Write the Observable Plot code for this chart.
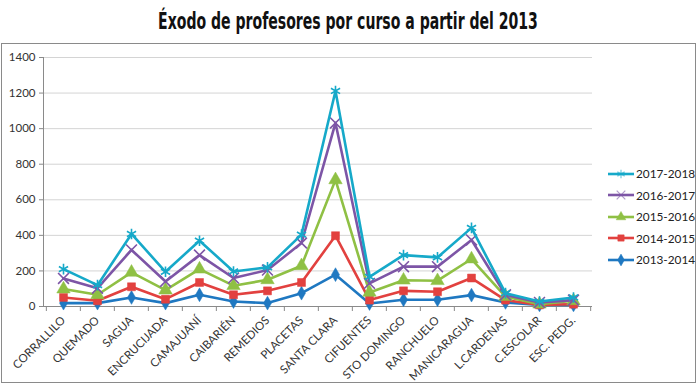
<!DOCTYPE html>
<html>
<head>
<meta charset="utf-8">
<script src="https://cdn.jsdelivr.net/npm/d3@7"></script>
<script src="https://cdn.jsdelivr.net/npm/@observablehq/plot@0.6"></script>
<style>
  html, body { margin: 0; padding: 0; background: #fff; }
  #wrap { position: relative; width: 700px; height: 387px; overflow: hidden; font-family: Lato, "Open Sans", sans-serif; }
  #title { position: absolute; left: 0; top: 0; }
  #frame { position: absolute; left: 1px; top: 43px; width: 695px; height: 340px; border: 1.5px solid #8a8a8a; box-sizing: border-box; }
  #chart { position: absolute; left: 0; top: 44px; }
  #legend { position: absolute; left: 608px; top: 163px; font-size: 11.8px; color: #222; }
  #legend .item { height: 21.5px; display: flex; align-items: center; }
  #legend svg { margin-right: 1px; }
</style>
</head>
<body>
<div id="wrap">
  <svg id="title" width="700" height="44"></svg>
  <div id="frame"></div>
  <div id="chart"></div>
  <div id="legend"></div>
</div>
<script>
const titleText = "Éxodo de profesores por curso a partir del 2013";
const categories = ["CORRALLILO","QUEMADO","SAGUA","ENCRUCIJADA","CAMAJUANÍ","CAIBARIÉN","REMEDIOS","PLACETAS","SANTA CLARA","CIFUENTES","STO DOMINGO","RANCHUELO","MANICARAGUA","L.CARDENAS","C.ESCOLAR","ESC. PEDG."];
const seriesNames = ["2013-2014","2014-2015","2015-2016","2016-2017","2017-2018"];
const v2013 = [19, 19, 51, 19, 66, 28, 19, 75, 179, 17, 38, 38, 64, 23, 9, 9];
const v2014 = [51, 32, 111, 41, 135, 66, 88, 135, 398, 36, 88, 83, 160, 36, 9, 13];
const v2015 = [98, 66, 192, 92, 210, 117, 150, 229, 712, 79, 148, 145, 267, 56, 13, 32];
const v2016 = [158, 103, 318, 141, 289, 160, 205, 357, 1032, 130, 224, 224, 374, 66, 23, 36];
const v2017 = [210, 120, 408, 195, 370, 197, 220, 404, 1212, 167, 289, 276, 442, 75, 28, 51];
const seriesValues = [v2013, v2014, v2015, v2016, v2017];
const seriesColors = ["#1f78c1", "#e2413f", "#8fc044", "#7d55a6", "#16a9c9"];
const seriesSymbols = ["diamond", "square", "triangle", "times", "asterisk"];
const yTicks = [0, 200, 400, 600, 800, 1000, 1200, 1400];

const data = [];
seriesNames.forEach((s, i) => categories.forEach((c, j) => data.push({series: s, cat: c, value: seriesValues[i][j]})));

// title: condensed bold; squeeze horizontally to the reference width (~380px)
const tsvg = d3.select("#title");
const tg = tsvg.append("g");
const tt = tg.append("text").attr("x", 0).attr("y", 29).attr("text-anchor", "middle")
  .attr("font-family", "'DejaVu Sans Condensed', 'Liberation Sans Narrow', sans-serif")
  .attr("font-weight", "bold").attr("font-size", 22.5).attr("fill", "#111")
  .text(titleText);
const w0 = tt.node().getComputedTextLength();
const sx = w0 > 0 ? Math.min(1, 380 / w0) : 1;
tg.attr("transform", `translate(348,0) scale(${sx},1)`);

const W = 700, H = 343, mL = 43, mR = 108, mT = 13, mB = 81;
const step = (W - mL - mR) / categories.length;

const marks = [
  Plot.gridY(yTicks, {stroke: "#d4d4d4", strokeOpacity: 1}),
  Plot.axisY(yTicks, {tickSize: 4, tickPadding: 4, fontSize: 11.5, fill: "#333", stroke: "#8a8a8a", tickFormat: d => String(d)}),
  Plot.frame({anchor: "left", stroke: "#8a8a8a"}),
  Plot.ruleY([0], {stroke: "#8a8a8a"}),
  Plot.axisX(categories, {tickSize: 5, text: null, dx: -step / 2, stroke: "#8a8a8a"}),
  Plot.axisX(categories.slice(-1), {tickSize: 5, text: null, dx: step / 2, stroke: "#8a8a8a"}),
  Plot.axisX({tickSize: 0, tickRotate: -45, tickPadding: 12, fontSize: 11.5, fill: "#333"})
];
seriesNames.forEach((s, i) => {
  const d = data.filter(r => r.series === s);
  marks.push(Plot.line(d, {x: "cat", y: "value", stroke: seriesColors[i], strokeWidth: 2.6}));
  const sym = seriesSymbols[i];
  const filled = sym === "diamond" || sym === "square" || sym === "triangle";
  marks.push(Plot.dot(d, {x: "cat", y: "value", symbol: () => sym,
    r: sym === "square" ? 4.5 : sym === "diamond" ? 4.2 : 5,
    fill: filled ? seriesColors[i] : "none", stroke: seriesColors[i], strokeWidth: filled ? 0.5 : 1.6}));
});

const chart = Plot.plot({
  width: W, height: H,
  marginLeft: mL, marginRight: mR, marginTop: mT, marginBottom: mB,
  style: {fontFamily: "Lato, 'Open Sans', sans-serif", background: "transparent", overflow: "visible"},
  x: {type: "band", domain: categories, padding: 0, label: null},
  y: {domain: [0, 1400], label: null},
  symbol: {type: "identity"},
  marks
});
document.getElementById("chart").appendChild(chart);

// legend (top to bottom: latest first)
const leg = d3.select("#legend");
[4, 3, 2, 1, 0].forEach(i => {
  const item = leg.append("div").attr("class", "item");
  const s = item.append("svg").attr("width", 27).attr("height", 12);
  s.append("line").attr("x1", 0).attr("x2", 26).attr("y1", 6).attr("y2", 6).attr("stroke", seriesColors[i]).attr("stroke-width", 2.6);
  const sym = {diamond: d3.symbolDiamond, square: d3.symbolSquare, triangle: d3.symbolTriangle, times: d3.symbolTimes, asterisk: d3.symbolAsterisk}[seriesSymbols[i]];
  const filled = i <= 2;
  s.append("path").attr("transform", "translate(13,6)").attr("d", d3.symbol(sym, filled ? 40 : 50)())
    .attr("fill", filled ? seriesColors[i] : "none").attr("stroke", seriesColors[i]).attr("stroke-width", filled ? 0.5 : 1.2).attr("opacity", filled ? 1 : 0.6);
  item.append("span").text(seriesNames[i]);
});
</script>
</body>
</html>
